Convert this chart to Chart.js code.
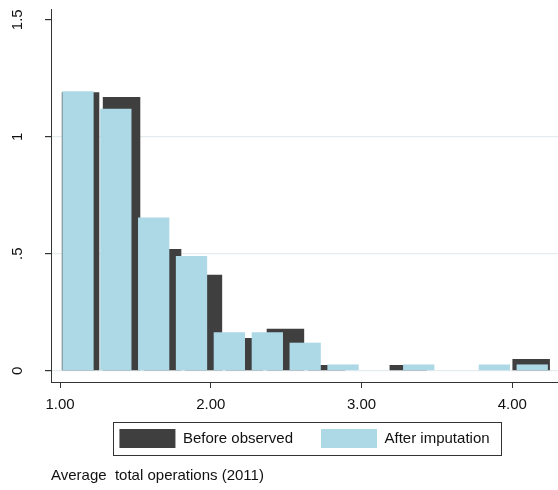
<!DOCTYPE html>
<html>
<head>
<meta charset="utf-8">
<script src="https://cdn.jsdelivr.net/npm/chart.js@4/dist/chart.umd.min.js"></script>
<style>
  html, body { margin: 0; padding: 0; background: #ffffff; }
  #wrap { width: 558px; height: 490px; }
</style>
</head>
<body>
<div id="wrap"><canvas id="hist" width="558" height="490"></canvas></div>
<script>
// Histogram bins (midpoints) and densities for the two samples
const binMidBefore = [1.136, 1.408, 1.680, 1.951, 2.223, 2.495, 2.767, 3.038, 3.310, 3.582, 3.854, 4.125];
const densityBefore = [1.19, 1.17, 0.52, 0.41, 0.14, 0.18, 0.025, 0, 0.025, 0, 0, 0.05];

const binMidAfter = [1.119, 1.370, 1.621, 1.872, 2.123, 2.375, 2.626, 2.877, 3.128, 3.379, 3.630, 3.881, 4.132];
const densityAfter = [1.195, 1.12, 0.655, 0.49, 0.165, 0.165, 0.12, 0.027, 0, 0.027, 0, 0.027, 0.027];

const seriesLabels = ['Before observed', 'After imputation'];
const axisTitle = 'Average  total operations (2011)';

// Axis ticks and their printed labels
const xTickValues = [1, 2, 3, 4];
const xTickLabels = ['1.00', '2.00', '3.00', '4.00'];
const yTickValues = [0, 0.5, 1, 1.5];
const yTickLabels = ['0', '.5', '1', '1.5'];

const X_MIN = 0.94, X_MAX = 4.303;
const Y_MIN = -0.048, Y_MAX = 1.546;

const tickFont = { family: "'Liberation Sans', Arial, Helvetica, sans-serif", size: 15 };
const textFont = { family: "'Liberation Sans', Arial, Helvetica, sans-serif", size: 15 };

const toPoints = (xs, ys) => xs.map((x, i) => ({ x: x, y: ys[i] }));

function setTicks(values) {
  return function (scale) { scale.ticks = values.map(v => ({ value: v })); };
}

// The x axis keeps a short layout box so the legend sits close to it;
// give its tick labels room to draw below that box.
const axisLabelRoom = {
  id: 'axisLabelRoom',
  afterLayout(chart) {
    const s = chart.scales.x;
    if (s) s.bottom = s.top + 40;
  }
};

// Thin frame drawn around the legend entries
const legendFrame = {
  id: 'legendFrame',
  afterDraw(chart) {
    const lg = chart.legend;
    if (!lg || !lg.legendHitBoxes || !lg.legendHitBoxes.length) return;
    const hb = lg.legendHitBoxes;
    const first = hb[0], last = hb[hb.length - 1];
    const left = Math.round(first.left - 6) + 0.5;
    const right = Math.round(last.left + last.width + 11) + 0.5;
    const top = Math.round(first.top - 7) + 0.5;
    const bottom = Math.round(first.top + first.height + 7) + 0.5;
    const ctx = chart.ctx;
    ctx.save();
    ctx.strokeStyle = '#333333';
    ctx.lineWidth = 1;
    ctx.strokeRect(left, top, right - left, bottom - top);
    ctx.restore();
  }
};

new Chart(document.getElementById('hist'), {
  type: 'bar',
  data: {
    datasets: [
      {
        label: seriesLabels[0],
        data: toPoints(binMidBefore, densityBefore),
        xAxisID: 'x',
        backgroundColor: '#3f3f3f',
        borderWidth: 0,
        grouped: false,
        categoryPercentage: 1,
        barPercentage: 0.918,
        order: 2
      },
      {
        label: seriesLabels[1],
        data: toPoints(binMidAfter, densityAfter),
        xAxisID: 'x2',
        backgroundColor: '#add8e6',
        borderWidth: 0,
        grouped: false,
        categoryPercentage: 1,
        barPercentage: 0.827,
        order: 1
      }
    ]
  },
  options: {
    responsive: false,
    animation: false,
    devicePixelRatio: 1,
    layout: { padding: { top: 9, left: 0, right: 0, bottom: 0 } },
    scales: {
      x: {
        type: 'linear',
        position: 'bottom',
        min: X_MIN,
        max: X_MAX,
        offset: false,
        afterBuildTicks: setTicks(xTickValues),
        afterFit: (s) => { s.height = 19; s.paddingLeft = 0; s.paddingRight = 0; },
        ticks: {
          font: tickFont,
          color: '#111111',
          padding: 8,
          maxRotation: 0,
          minRotation: 0,
          callback: (v) => { const i = xTickValues.indexOf(v); return i >= 0 ? xTickLabels[i] : ''; }
        },
        grid: { offset: false, drawOnChartArea: false, drawTicks: true, tickLength: 6, tickColor: '#333333' },
        border: { display: true, color: '#333333', width: 1 }
      },
      x2: {
        type: 'linear',
        position: 'bottom',
        display: false,
        min: X_MIN,
        max: X_MAX,
        offset: false,
        afterBuildTicks: setTicks(xTickValues),
        grid: { offset: false }
      },
      y: {
        type: 'linear',
        position: 'left',
        min: Y_MIN,
        max: Y_MAX,
        afterBuildTicks: setTicks(yTickValues),
        afterFit: (s) => { s.width = 51; s.paddingTop = 0; s.paddingBottom = 0; },
        ticks: {
          font: tickFont,
          color: '#111111',
          minRotation: 90,
          maxRotation: 90,
          crossAlign: 'center',
          padding: 17,
          callback: (v) => { const i = yTickValues.indexOf(v); return i >= 0 ? yTickLabels[i] : ''; }
        },
        grid: {
          color: (c) => (c.tick && c.tick.value === 1.5) ? 'rgba(0,0,0,0)' : '#e3ecef',
          lineWidth: 1.2,
          drawTicks: true,
          tickLength: 6,
          tickColor: '#333333'
        },
        border: { display: true, color: '#333333', width: 1 }
      }
    },
    plugins: {
      legend: {
        display: true,
        position: 'bottom',
        fullSize: false,
        align: 'center',
        labels: {
          font: textFont,
          color: '#111111',
          boxWidth: 56,
          boxHeight: 19,
          padding: 28,
          sort: (a, b) => a.datasetIndex - b.datasetIndex
        }
      },
      title: {
        display: true,
        position: 'bottom',
        fullSize: false,
        align: 'start',
        text: axisTitle,
        font: Object.assign({}, textFont, { weight: 'normal' }),
        color: '#111111',
        padding: { top: 9, bottom: 5 }
      },
      tooltip: { enabled: false }
    }
  },
  plugins: [axisLabelRoom, legendFrame]
});
</script>
</body>
</html>
